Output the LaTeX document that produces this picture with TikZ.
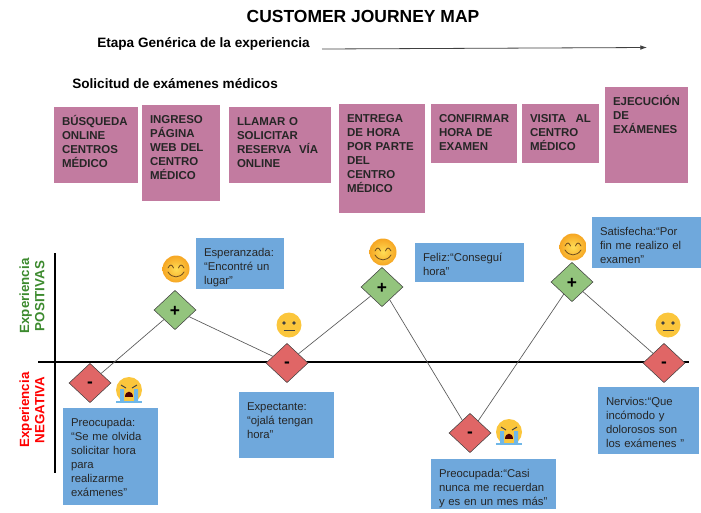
\documentclass[tikz,border=0pt]{standalone}
\usepackage{fontspec}
\setmainfont{Liberation Sans}
\usetikzlibrary{
    arrows.meta,
    shapes.geometric
}
\definecolor{stagepurple}{HTML}{C27BA0}
\definecolor{notesblue}{HTML}{6FA8DC}
\definecolor{goodgreen}{HTML}{93C47D}
\definecolor{badred}{HTML}{E06666}
\definecolor{poslabel}{HTML}{3C8A2E}
\definecolor{facegold}{HTML}{FBC63C}
\definecolor{smilecentre}{HTML}{FFDD55}
\definecolor{smileedge}{HTML}{F6A623}
\definecolor{faceline}{HTML}{6B4A1E}
\definecolor{tearblue}{HTML}{6FB7E8}

\tikzset{
    panel/.style 2 args={
        anchor=north west, align=left, inner sep=6pt, outer sep=0pt,
        text width={(#1)*0.75pt-12pt},
        text height=8pt, text depth={(#2)*0.75pt-20pt}
    },
    stagebox/.style={fill=stagepurple, text=black!85, font=\bfseries\fontsize{8.6}{10.5}\selectfont},
    notebox/.style={fill=notesblue, text=black!85, font=\fontsize{8.5}{10.5}\selectfont},
    heading/.style={anchor=west, inner sep=0pt, font=\bfseries\fontsize{10.2}{12}\selectfont},
    axislabel/.style={rotate=90, align=center, font=\bfseries\fontsize{10}{11.5}\selectfont},
    mood/.style={diamond, draw=black!75, line width=0.4pt, inner sep=0pt, text depth=0pt,
        minimum width=31.5pt, minimum height=29.5pt, font=\bfseries\fontsize{13}{13}\selectfont},
    good/.style={mood, fill=goodgreen, text height=9pt},
    bad/.style={mood, fill=badred, text height=7pt},
    link/.style={draw=black!65, line width=0.5pt},
    smileface/.pic={
        \shade[inner color=smilecentre, outer color=smileedge] (0,0) circle (13.5);
        \draw[faceline, line width=0.6pt, line cap=round] (-8,-1) .. controls (-6,-5) and (-4,-5) .. (-2.5,-1);
        \draw[faceline, line width=0.6pt, line cap=round] (2.5,-1) .. controls (4,-5) and (6,-5) .. (8,-1);
        \draw[faceline, line width=0.6pt, line cap=round] (-8,3) .. controls (-4,9.5) and (4,9.5) .. (8,3);
    },
    plainface/.pic={
        \fill[facegold] (0,0) circle (12.5);
        \fill[black!75] (-5,-2) circle (1.8) (5,-2) circle (1.8);
        \draw[black!75, line width=0.8pt] (-5.5,5.5) -- (5.5,5.5);
    },
    cryface/.pic={
        \fill[facegold] (0,0) circle (13);
        \fill[tearblue] (-9,-1) rectangle (-5,12) (5,-1) rectangle (9,12);
        \fill[tearblue] (-13,11) rectangle (13,13);
        \draw[black!75, line width=0.7pt] (-8,-5) -- (-3,-2) (8,-5) -- (3,-2);
        \fill[black!70!red] (-4,7) .. controls (-4,0) and (4,0) .. (4,7) -- cycle;
    }
}

\begin{document}
\begin{tikzpicture}[x=0.75pt, y=-0.75pt]
    \useasboundingbox (0,0) rectangle (701,512);

    % Headings
    \node[font=\bfseries\fontsize{13.1}{15}\selectfont] (title) at (363,16) {CUSTOMER JOURNEY MAP};
    \node[heading] (stagename) at (97,44) {Etapa Genérica de la experiencia};
    \node[heading] (servicename) at (72,84) {Solicitud de exámenes médicos};
    \coordinate (stagestart) at (322,49);
    \coordinate (stageend) at (647,47.5);
    \draw[-{Latex[length=5pt,width=3.5pt]}, black!75, line width=0.6pt] (stagestart) -- (stageend);

    % Stages
    \node[stagebox, panel={84}{76.5}] (busqueda) at (54,106.5) {BÚSQUEDA\\ONLINE\\CENTROS\\MÉDICO};
    \node[stagebox, panel={78}{96.5}] (ingreso) at (142,104.5) {INGRESO\\PÁGINA\\WEB DEL\\CENTRO\\MÉDICO};
    \node[stagebox, panel={102}{76}] (llamar) at (229,107) {LLAMAR O\\SOLICITAR\\RESERVA\ \ VÍA\\ONLINE};
    \node[stagebox, panel={86}{109}] (entrega) at (339,104) {ENTREGA\\DE HORA\\POR PARTE\\DEL\\CENTRO\\MÉDICO};
    \node[stagebox, panel={86}{59}] (confirmar) at (431,104) {CONFIRMAR\\HORA DE\\EXAMEN};
    \node[stagebox, panel={77}{59}] (visita) at (522,104) {\hbox to \linewidth{VISITA\hfill AL}\\CENTRO\\MÉDICO};
    \node[stagebox, panel={83}{96}] (ejecucion) at (605,87) {EJECUCIÓN\\DE\\EXÁMENES};

    % Axes
    \coordinate (hleft) at (38,362);
    \coordinate (hright) at (689,362);
    \coordinate (vtop) at (55,253);
    \coordinate (vbottom) at (55,473);
    \draw[line width=1.4pt] (vtop) -- (vbottom);
    \draw[line width=2.1pt] (hleft) -- (hright);
    \node[axislabel, text=poslabel] (poslabel) at (32,296) {Experiencia\\POSITIVAS};
    \node[axislabel, text=red] (neglabel) at (32,410) {Experiencia\\NEGATIVA};

    % Moods
    \node[bad] (m1) at (90,383) {-};
    \node[good] (m2) at (175,310) {+};
    \node[bad] (m3) at (287,363) {-};
    \node[good] (m4) at (382,287) {+};
    \node[bad] (m5) at (470,433) {-};
    \node[good] (m6) at (572,282) {+};
    \node[bad] (m7) at (664,363) {-};

    % Curve
    \draw[link] (m1) -- (m2);
    \draw[link] (m2) -- (m3);
    \draw[link] (m3) -- (m4);
    \draw[link] (m4) -- (m5);
    \draw[link] (m5) -- (m6);
    \draw[link] (m6) -- (m7);

    % Faces
    \pic at (129,390) {cryface};
    \pic at (176,269) {smileface};
    \pic at (289,325) {plainface};
    \pic at (383,252) {smileface};
    \pic at (509,432) {cryface};
    \pic at (573,247) {smileface};
    \pic at (668,325) {plainface};

    % Notes
    \node[notebox, panel={94.5}{97}] (note1) at (63,408) {Preocupada:\\“Se me olvida\\solicitar hora\\para\\realizarme\\exámenes”};
    \node[notebox, panel={88}{51}] (note2) at (196,238) {Esperanzada:\\“Encontré un\\lugar”};
    \node[notebox, panel={94.5}{66}] (note3) at (239,392) {Expectante:\\“ojalá tengan\\hora”};
    \node[notebox, panel={109}{39}] (note4) at (415,243) {Feliz:“Conseguí\\hora”};
    \node[notebox, panel={125}{50}] (note5) at (431,459) {Preocupada:“Casi\\nunca me recuerdan\\y es en un mes más”};
    \node[notebox, panel={109}{51}] (note6) at (592,217) {Satisfecha:“Por\\fin me realizo el\\examen”};
    \node[notebox, panel={101}{67}] (note7) at (598,387) {Nervios:“Que\\incómodo y\\dolorosos son\\los exámenes ”};
\end{tikzpicture}
\end{document}
